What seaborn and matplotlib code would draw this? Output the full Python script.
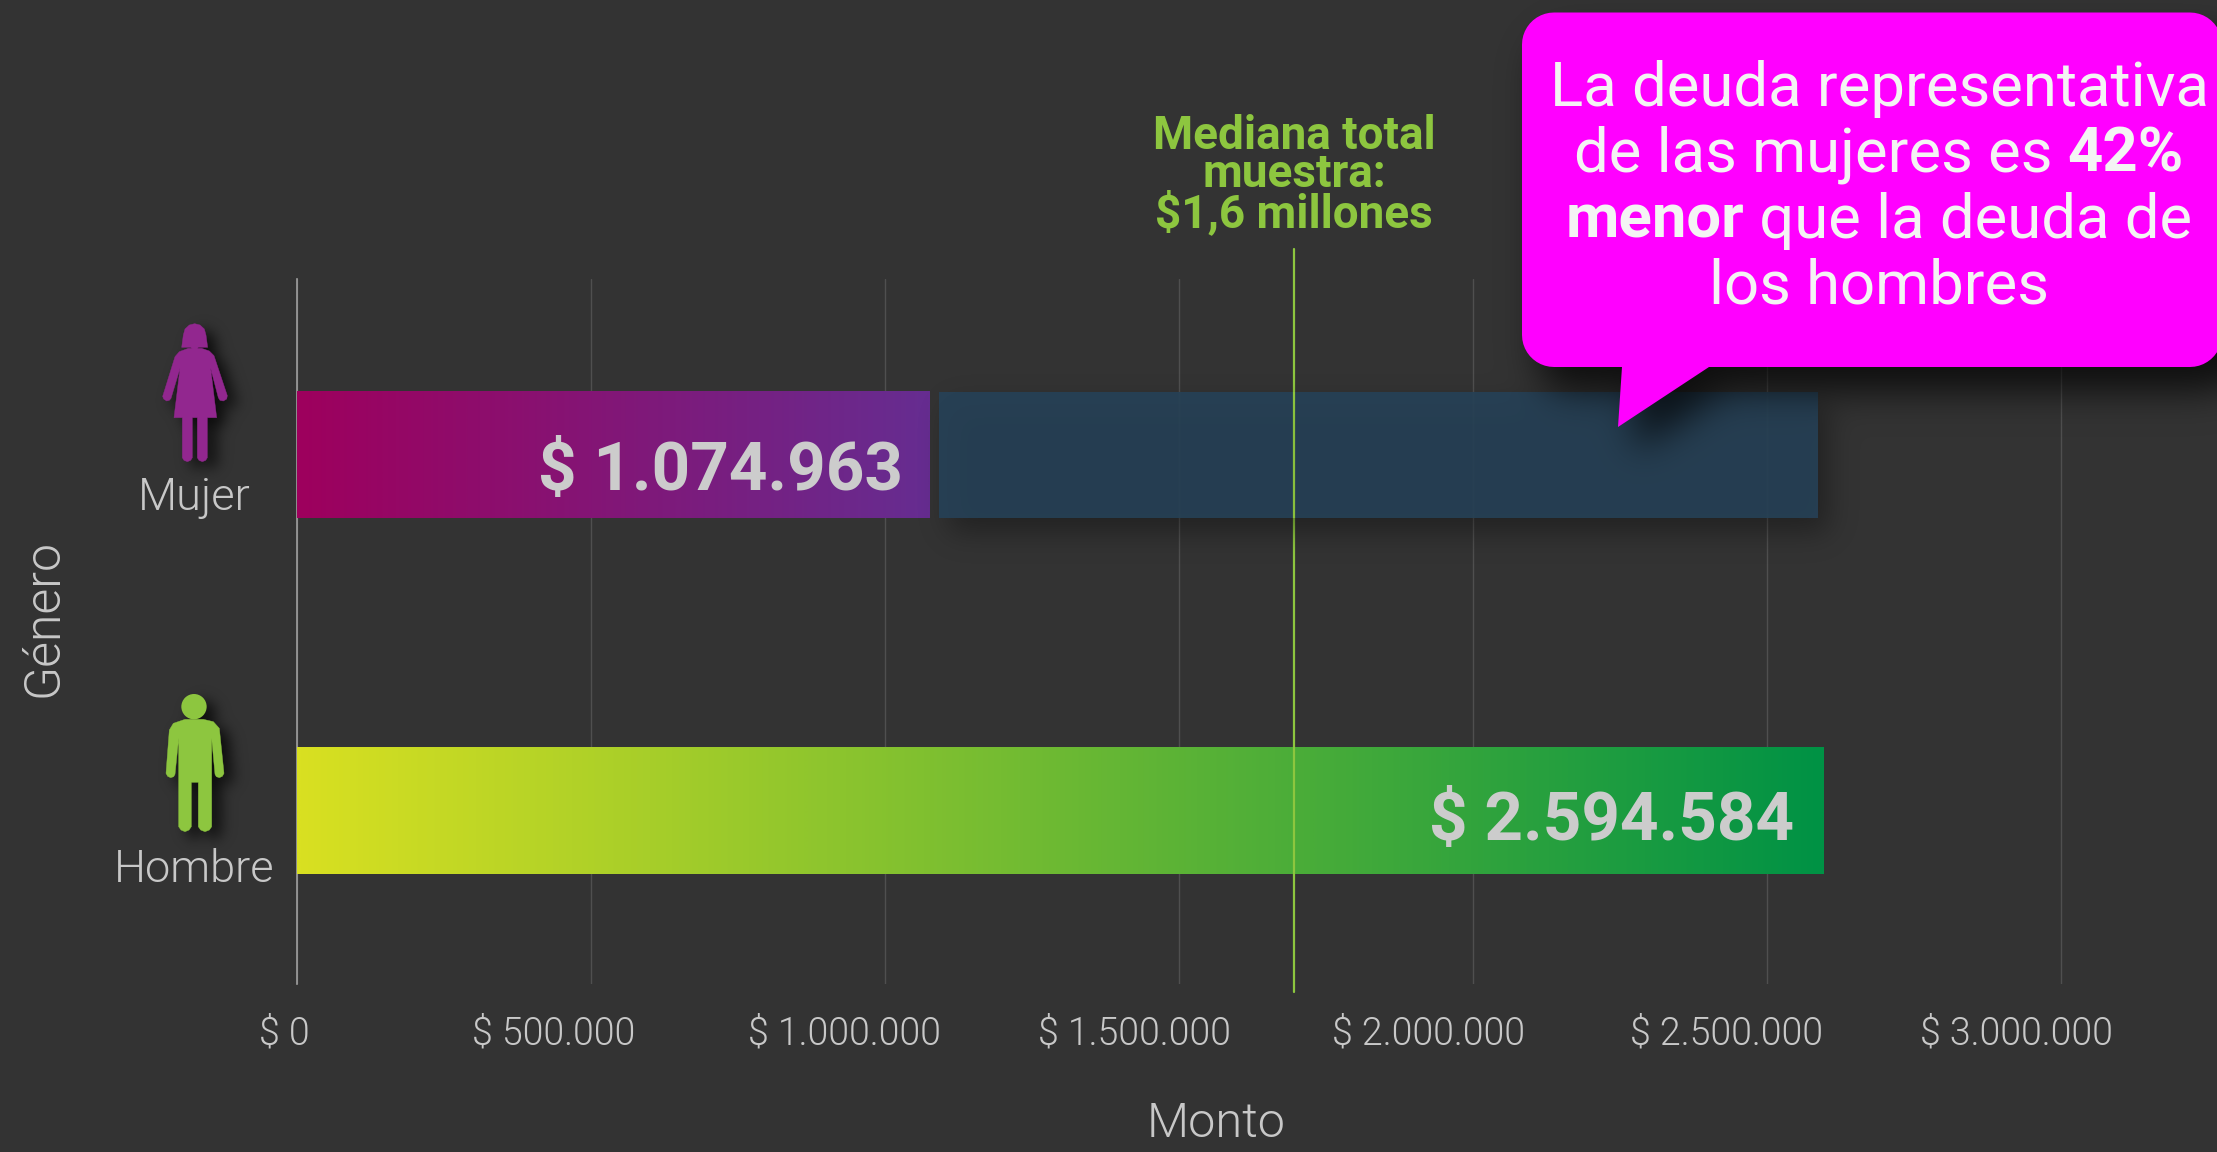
import numpy as np
import pandas as pd
import matplotlib
matplotlib.use("Agg")
import matplotlib.pyplot as plt
import seaborn as sns
from matplotlib.path import Path
from matplotlib.patches import PathPatch, Ellipse
from matplotlib.transforms import ScaledTranslation
from matplotlib.colors import LinearSegmentedColormap

generos = ["Mujer", "Hombre"]
montos = [1074963, 2594584]
valor_labels = ["$ 1.074.963", "$ 2.594.584"]
brecha_inicio = 1093000
brecha_fin = 2587000
mediana = 1696000
ticks = [0, 500000, 1000000, 1500000, 2000000, 2500000, 3000000]
tick_labels = ["$ 0", "$ 500.000", "$ 1.000.000", "$ 1.500.000", "$ 2.000.000", "$ 2.500.000", "$ 3.000.000"]
tick_dx = [-12, -37, -40, -44, -44, -41, -45]

W, H = 2217, 1152
BG = "#333333"
GRAY = "#c8c8c8"
GREEN = "#8dc63f"
PURPLE = "#92278f"
MAGENTA = "#ff00ff"
YLIM = (1.486, -0.494)

sns.set_theme(style="dark", rc={"axes.facecolor": BG, "figure.facecolor": BG})
plt.rcParams["font.family"] = ["Roboto", "DejaVu Sans"]

fig = plt.figure(figsize=(W / 100, H / 100), dpi=100, facecolor=BG)
ax = fig.add_axes([296.5 / W, 1 - 984 / H, 1 - 296.5 / W, (984 - 279) / H], zorder=1)
ax.set_facecolor(BG)

df = pd.DataFrame({"Género": generos, "Monto": montos})
sns.barplot(data=df, y="Género", x="Monto", order=generos, orient="h", width=0.354,
            color="#777777", ax=ax, zorder=2, linewidth=0, edgecolor="none")
female_bar, male_bar = ax.patches[0], ax.patches[1]
gap_bar = ax.barh(0, brecha_fin - brecha_inicio, left=brecha_inicio, height=0.354,
                  color="#274257", alpha=0.93, zorder=2, linewidth=0, edgecolor="none")[0]

ax.set_xlim(0, 3265000)
ax.set_ylim(*YLIM)

def gradient(bar, c0, c1):
    cm = LinearSegmentedColormap.from_list("g", [c0, c1])
    x0, y0, w, h = bar.get_x(), bar.get_y(), bar.get_width(), bar.get_height()
    ax.imshow(np.linspace(0, 1, 512)[None, :], cmap=cm, aspect="auto",
              extent=(x0, x0 + w, y0 + h, y0), zorder=3, interpolation="bilinear")

gradient(female_bar, "#9e005d", "#662d91")
gradient(male_bar, "#d9e021", "#009245")
ax.set_xlim(0, 3265000)
ax.set_ylim(*YLIM)

ax.set_axisbelow(True)
ax.xaxis.grid(True, color="#4f4f4f", lw=1)
ax.yaxis.grid(False)
for s in ["top", "right", "bottom"]:
    ax.spines[s].set_visible(False)
ax.spines["left"].set_color("#a0a0a0")
ax.spines["left"].set_linewidth(1.2)

ax.set_xticks(ticks)
ax.set_xticklabels(tick_labels, color=GRAY, fontsize=27, fontweight=300)
ax.tick_params(axis="x", length=0, pad=22)
for lab, dx in zip(ax.get_xticklabels(), tick_dx):
    lab.set_transform(lab.get_transform() + ScaledTranslation(dx / 100, 0, fig.dpi_scale_trans))
ax.set_yticks([0, 1])
ax.set_yticklabels(generos, color=GRAY, fontsize=32.5, fontweight=300)
ax.tick_params(axis="y", length=0, pad=0)
for lab, dy in zip(ax.get_yticklabels(), [-38, -54]):
    lab.set_ha("center")
    lab.set_transform(lab.get_transform() + ScaledTranslation(-102 / 100, dy / 100, fig.dpi_scale_trans))

ax.set_xlabel("Monto", color=GRAY, fontsize=35, fontweight=300)
ax.xaxis.set_label_coords((1216 - 296) / (W - 296), -(1124 - 984) / (984 - 279))
ax.set_ylabel("Género", color=GRAY, fontsize=36, fontweight=300)
ax.yaxis.set_label_coords(-(296 - 43) / (W - 296), 1 - (618 - 279) / (984 - 279))
ax.xaxis.label.set_va("center")
ax.yaxis.label.set_va("center")

ax.axvline(mediana, ymin=-0.012, ymax=1.043, color=GREEN, lw=1.6, clip_on=False, zorder=5)
ax.text(mediana, -0.615, "Mediana total\nmuestra:\n$1,6 millones", color=GREEN, fontsize=33,
        fontweight="bold", ha="center", va="bottom", linespacing=0.83, clip_on=False)

for y, v, t, dx, dy in zip([0, 1], montos, valor_labels, [-26, -29], [-17, -11]):
    ax.annotate(t, (v, y), xytext=(dx * 0.72, dy * 0.72), textcoords="offset points", color="#cccccc",
                fontsize=48.5, fontweight="bold", ha="right", va="center", zorder=6)

# ---- decorative overlay in pixel coordinates ----
def corner(cx, cy, r, a0, a1):
    t = np.radians(np.linspace(a0, a1, 12))
    return [(cx + r * np.cos(a), cy + r * np.sin(a)) for a in t]

def callout_path():
    l, r, t, b, rad = 1522, 2222, 12.5, 367, 32
    pts = []
    pts += corner(l + rad, t + rad, rad, 180, 270)
    pts += corner(r - rad, t + rad, rad, 270, 360)
    pts += corner(r - rad, b - rad, rad, 0, 90)
    pts += [(1709, b), (1618, 427), (1622, b)]
    pts += corner(l + rad, b - rad, rad, 90, 180)
    pts.append(pts[0])
    return Path(pts, closed=True)

def icon_poly(a, pts, c, ox, oy):
    v = [(ox + x / 3, oy + y / 3) for x, y in pts]
    a.add_patch(PathPatch(Path(v + [v[0]], closed=True), fc=c, ec=c, lw=0.3))

def draw_woman(a, c):
    ox, oy = 150, 315
    icon_poly(a, [(95, 97), (100, 60), (105, 42), (118, 30), (134, 26), (150, 30), (163, 42), (168, 60),
                  (173, 97), (145, 97), (140, 103), (128, 103), (122, 97)], c, ox, oy)
    icon_poly(a, [(115, 100), (155, 100), (178, 108), (192, 122), (232, 242), (230, 252), (220, 258), (210, 256),
                  (205, 248), (182, 160), (200, 308), (172, 308), (172, 428), (167, 436), (157, 440), (147, 436),
                  (142, 428), (142, 308), (127, 308), (127, 428), (122, 436), (112, 440), (102, 436), (97, 428),
                  (97, 308), (72, 308), (90, 160), (63, 250), (58, 256), (50, 258), (41, 252), (38, 244),
                  (75, 125), (88, 110)], c, ox, oy)

def draw_man(a, c):
    ox, oy = 150, 685
    a.add_patch(Ellipse((ox + 132 / 3, oy + 65 / 3), 76 / 3, 76 / 3, fc=c, ec=c, lw=0))
    icon_poly(a, [(105, 103), (160, 103), (190, 110), (208, 130), (222, 265), (217, 274), (208, 278), (199, 275),
                  (195, 268), (185, 160), (185, 425), (178, 435), (165, 440), (152, 435), (145, 425), (145, 292),
                  (124, 292), (124, 425), (117, 435), (105, 440), (93, 435), (86, 425), (86, 160), (75, 268),
                  (71, 275), (62, 278), (53, 274), (48, 265), (58, 135), (70, 115)], c, ox, oy)

def render_mask(fn):
    f2 = plt.figure(figsize=(W / 100, H / 100), dpi=100, facecolor="white")
    a2 = f2.add_axes([0, 0, 1, 1])
    a2.set_xlim(0, W); a2.set_ylim(H, 0); a2.axis("off")
    fn(a2)
    f2.canvas.draw()
    m = 1 - np.asarray(f2.canvas.buffer_rgba())[:, :, 0].astype(float) / 255
    plt.close(f2)
    return m

def blur(m, sigma, dx, dy):
    p = 150
    mp = np.pad(m, p, mode="edge")
    fy = np.fft.fftfreq(mp.shape[0])[:, None]
    fx = np.fft.rfftfreq(mp.shape[1])[None, :]
    g = np.exp(-2 * (np.pi * sigma) ** 2 * (fx ** 2 + fy ** 2))
    phase = np.exp(-2j * np.pi * (fx * dx + fy * dy))
    out = np.fft.irfft2(np.fft.rfft2(mp) * g * phase, s=mp.shape)
    return np.clip(out[p:-p, p:-p], 0, 1)

fig.canvas.draw()
ext = gap_bar.get_window_extent()
def gap_rect(a):
    y0, y1 = H - ext.y1, H - ext.y0
    a.fill([ext.x0, ext.x1, ext.x1, ext.x0], [y0, y0, y1, y1], color="k", lw=0)
mask_gap = render_mask(gap_rect)
mask_call = render_mask(lambda a: a.add_patch(PathPatch(callout_path(), fc="k", ec="k", lw=0)))
mask_icons = render_mask(lambda a: (draw_woman(a, "k"), draw_man(a, "k")))

shadow = blur(mask_gap, 14, 10, 14) * 0.38 * (1 - mask_gap)
shadow = 1 - (1 - shadow) * (1 - blur(mask_call, 18, 16, 24) * 0.8)
shadow = 1 - (1 - shadow) * (1 - blur(mask_icons, 7, 9, 7) * 0.85)
rgba = np.zeros((H, W, 4))
rgba[:, :, 3] = shadow

ov = fig.add_axes([0, 0, 1, 1], zorder=5)
ov.set_xlim(0, W); ov.set_ylim(H, 0); ov.axis("off"); ov.patch.set_visible(False)
ov.imshow(rgba, extent=(0, W, H, 0), aspect="auto", interpolation="nearest", zorder=1)
ov.set_xlim(0, W); ov.set_ylim(H, 0)
ov.add_patch(PathPatch(callout_path(), fc=MAGENTA, ec=MAGENTA, lw=0, zorder=2))
draw_woman(ov, PURPLE)
draw_man(ov, GREEN)

lines = [(106, [("La deuda representativa", "normal")]),
         (172, [("de las mujeres es ", "normal"), ("42%", "bold")]),
         (238, [("menor", "bold"), (" que la deuda de", "normal")]),
         (303, [("los hombres", "normal")])]
rend = fig.canvas.get_renderer()
CALL_FS = 44.4
for base, runs in lines:
    def width(t, w):
        probe = ov.text(0, 0, t.replace(" ", "\u00a0"), fontsize=CALL_FS, fontweight=w)
        wd = probe.get_window_extent(rend).width
        probe.remove()
        return wd
    ws = [width(t, w) for t, w in runs]
    x = 1879 - sum(ws) / 2
    for (t, w), wd in zip(runs, ws):
        ov.text(x, base, t.replace(" ", "\u00a0"), fontsize=CALL_FS, fontweight=w, color="#f4f4f4",
                ha="left", va="baseline", zorder=3)
        x += wd

fig.savefig("out.png", dpi=100, facecolor=BG)
